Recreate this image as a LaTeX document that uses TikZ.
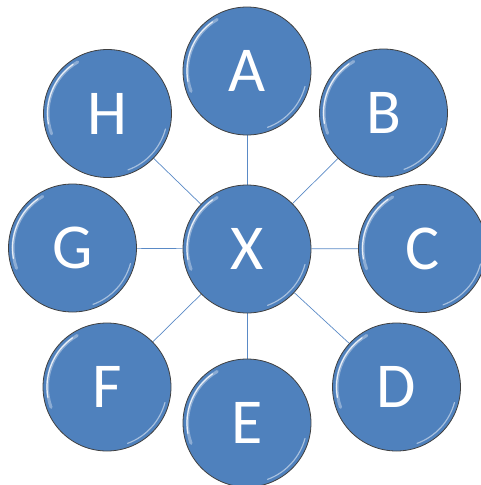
\documentclass[tikz,border=0pt]{standalone}
\usepackage{fontspec}
\setmainfont{Carlito}
\usetikzlibrary{backgrounds}
\definecolor{ballblue}{HTML}{4F81BD}
\definecolor{linkblue}{HTML}{5A8AC6}
\tikzset{
  ball/.style={circle, minimum size=128pt, inner sep=0pt, fill=ballblue,
    draw=black!75, line width=0.8pt, text=white, font=\fontsize{64}{64}\selectfont,
    path picture={
      \draw[white, opacity=0.35, line width=3pt, line cap=round]
        (path picture bounding box.center) ++(120:59.5pt) arc (120:200:59.5pt);
      \draw[white, opacity=0.8, line width=1.2pt, line cap=round]
        (path picture bounding box.center) ++(125:60pt) arc (125:190:60pt);
      \draw[white, opacity=0.5, line width=1.2pt, line cap=round]
        (path picture bounding box.center) ++(290:60pt) arc (290:345:60pt);
    }},
  link/.style={draw=linkblue, line width=0.7pt}
}
\begin{document}
\begin{tikzpicture}[x=1pt,y=1pt]
\useasboundingbox (0,0) rectangle (481,-485);
\node[ball] (X) at (247,-249) {X};
\node[ball] (A) at (247,-71) {A};
\node[ball] (B) at (383.5,-113) {B};
\node[ball] (C) at (422.5,-248.5) {C};
\node[ball] (D) at (396.5,-387) {D};
\node[ball] (E) at (247,-423) {E};
\node[ball] (F) at (107,-387) {F};
\node[ball] (G) at (72.5,-248) {G};
\node[ball] (H) at (107.5,-113.5) {H};
\begin{scope}[on background layer]
\foreach \n in {A,B,C,D,E,F,G,H}
  \draw[link] (X) -- (\n);
\end{scope}
\end{tikzpicture}
\end{document}
